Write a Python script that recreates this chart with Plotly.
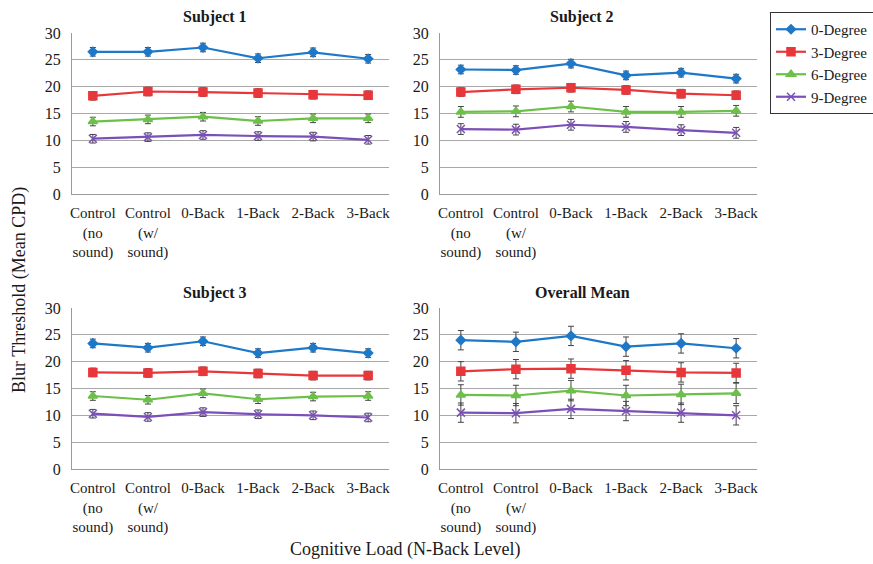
import plotly.graph_objects as go

categories = ["Control<br>(no<br>sound)", "Control<br>(w/<br>sound)", "0-Back", "1-Back", "2-Back", "3-Back"]
series_names = ["0-Degree", "3-Degree", "6-Degree", "9-Degree"]
panel_titles = ["Subject 1", "Subject 2", "Subject 3", "Overall Mean"]

subject1 = {
    "0-Degree": [26.5, 26.5, 27.3, 25.3, 26.4, 25.2],
    "3-Degree": [18.3, 19.1, 19.0, 18.8, 18.5, 18.4],
    "6-Degree": [13.5, 13.9, 14.4, 13.6, 14.1, 14.1],
    "9-Degree": [10.3, 10.6, 11.0, 10.8, 10.7, 10.1],
}
subject1_err = [0.8, 0.8, 0.8, 0.8]

subject2 = {
    "0-Degree": [23.2, 23.1, 24.3, 22.1, 22.6, 21.5],
    "3-Degree": [19.0, 19.5, 19.8, 19.4, 18.7, 18.4],
    "6-Degree": [15.3, 15.4, 16.3, 15.3, 15.3, 15.5],
    "9-Degree": [12.1, 12.0, 12.9, 12.5, 11.9, 11.4],
}
subject2_err = [0.8, 0.8, 1.0, 1.0]

subject3 = {
    "0-Degree": [23.4, 22.6, 23.8, 21.6, 22.6, 21.6],
    "3-Degree": [18.0, 17.9, 18.2, 17.8, 17.4, 17.4],
    "6-Degree": [13.6, 12.9, 14.1, 13.0, 13.5, 13.6],
    "9-Degree": [10.3, 9.7, 10.6, 10.2, 10.0, 9.6],
}
subject3_err = [0.8, 0.8, 0.8, 0.8]

overall = {
    "0-Degree": [24.0, 23.7, 24.8, 22.8, 23.4, 22.5],
    "3-Degree": [18.2, 18.6, 18.7, 18.4, 18.0, 17.9],
    "6-Degree": [13.8, 13.7, 14.6, 13.7, 13.9, 14.1],
    "9-Degree": [10.5, 10.4, 11.2, 10.8, 10.5, 10.0],
}
overall_err = [1.8, 1.8, 1.9, 1.8]

y_ticks = [0, 5, 10, 15, 20, 25, 30]

colors = ["#1E78C8", "#E8373B", "#6CC04A", "#7A4FB8"]
symbols = ["diamond", "square", "triangle-up", "x-thin-open"]
msizes = [7, 8, 8, 8]

panels = [(subject1, subject1_err), (subject2, subject2_err), (subject3, subject3_err), (overall, overall_err)]

W, H = 873, 564
xdoms = [[72 / W, 389 / W], [440 / W, 757 / W]]
ydoms = [[1 - 194 / H, 1 - 33 / H], [1 - 469 / H, 1 - 308 / H]]

font_family = "Liberation Serif, Times New Roman, serif"
txt = "#1a1a1a"

fig = go.Figure()
for p, (data, errs) in enumerate(panels):
    ax = "" if p == 0 else str(p + 1)
    for s, name in enumerate(series_names):
        fig.add_trace(go.Scatter(
            x=categories, y=data[name], name=name, mode="lines+markers",
            xaxis="x" + ax, yaxis="y" + ax,
            line=dict(color=colors[s], width=2.2),
            marker=dict(symbol=symbols[s], size=msizes[s], color=colors[s],
                        line=dict(color=colors[s], width=1.5)),
            error_y=dict(type="constant", value=errs[s], color="#444444", thickness=1, width=3),
            showlegend=(p == 0),
        ))

layout = dict(
    width=W, height=H, margin=dict(l=0, r=0, t=0, b=0, autoexpand=False),
    paper_bgcolor="white", plot_bgcolor="white",
    font=dict(family=font_family, size=15, color=txt),
    showlegend=True,
    legend=dict(x=770 / W, y=1 - 12 / H, xanchor="left", yanchor="top",
                bordercolor="#333333", borderwidth=1, bgcolor="white",
                font=dict(family=font_family, size=15, color=txt),
                tracegroupgap=0, itemwidth=30),
)
for p in range(4):
    ax = "" if p == 0 else str(p + 1)
    col = p % 2
    row = p // 2
    layout["xaxis" + ax] = dict(domain=xdoms[col], anchor="y" + ax, showgrid=False,
                               showline=True, linecolor="#9a9a9a", linewidth=1, automargin=False,
                               ticks="", ticklabelstandoff=5,
                               tickfont=dict(size=15, color=txt), fixedrange=True)
    layout["yaxis" + ax] = dict(domain=ydoms[row], anchor="x" + ax, range=[0, 30],
                               tickvals=y_ticks, showgrid=True, gridcolor="#a8a8a8", gridwidth=1,
                               showline=True, linecolor="#9a9a9a", linewidth=1, zeroline=False,
                               automargin=False, ticks="", ticklabelstandoff=7,
                               tickfont=dict(size=16, color=txt), fixedrange=True)
fig.update_layout(**layout)

title_pos = [(215, 17), (582, 17), (215, 293), (582, 293)]
for t, (tx, ty) in zip(panel_titles, title_pos):
    fig.add_annotation(text="<b>" + t + "</b>", x=tx / W, y=1 - ty / H, xref="paper", yref="paper",
                       xanchor="center", yanchor="middle", showarrow=False,
                       font=dict(size=16, family=font_family, color=txt))

fig.add_annotation(text="Blur Threshold (Mean CPD)", x=19 / W, y=1 - 290 / H, xref="paper", yref="paper",
                   xanchor="center", yanchor="middle", showarrow=False, textangle=-90,
                   font=dict(size=18, family=font_family, color=txt))
fig.add_annotation(text="Cognitive Load (N-Back Level)", x=405 / W, y=1 - 549 / H, xref="paper", yref="paper",
                   xanchor="center", yanchor="middle", showarrow=False,
                   font=dict(size=18, family=font_family, color=txt))

fig.write_html("out.html", config={"displayModeBar": False},
               post_script="document.body.style.margin='0';")
